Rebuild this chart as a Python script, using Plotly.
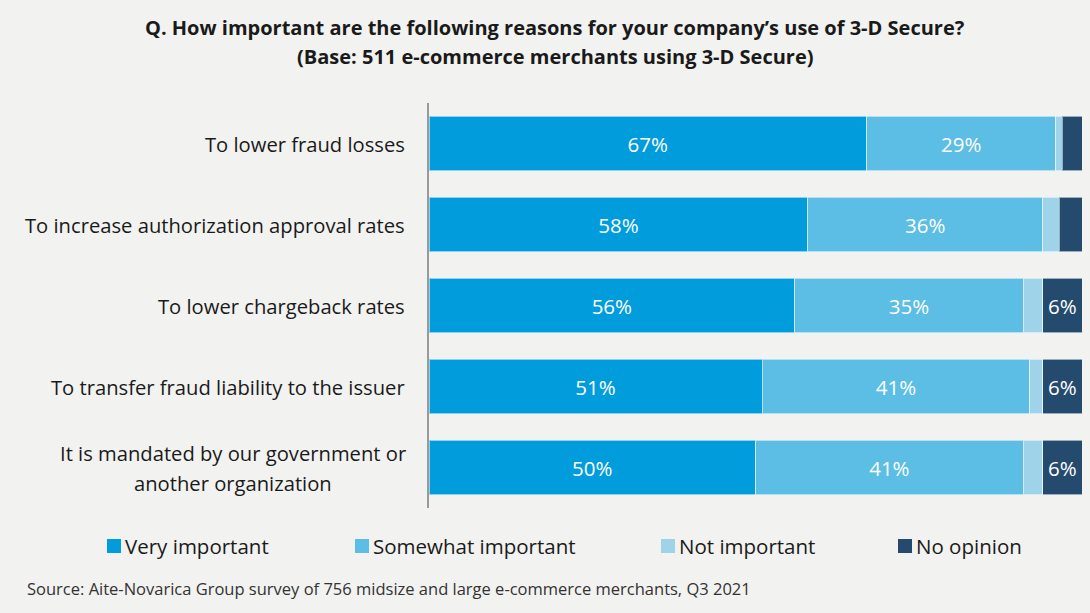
import plotly.graph_objects as go

# Survey responses (% of merchants), listed top to bottom
reasons = [
    "To lower fraud losses",
    "To increase authorization approval rates",
    "To lower chargeback rates",
    "To transfer fraud liability to the issuer",
    "It is mandated by our government or<br>another organization",
]
very_important = [67, 58, 56, 51, 50]
somewhat_important = [29, 36, 35, 41, 41]
not_important = [1, 2.5, 3, 2, 3]
no_opinion = [3, 3.5, 6, 6, 6]

series = [
    ("Very important", very_important, "#009CDC"),
    ("Somewhat important", somewhat_important, "#5CBDE5"),
    ("Not important", not_important, "#9ED3EA"),
    ("No opinion", no_opinion, "#244A6E"),
]

title_lines = [
    "Q. How important are the following reasons for your company’s use of 3-D Secure?",
    "(Base: 511 e-commerce merchants using 3-D Secure)",
]
source_note = "Source: Aite-Novarica Group survey of 756 midsize and large e-commerce merchants, Q3 2021"

FONT = "Open Sans"
W, H = 1090, 613
L, R, T, B = 429, 8, 103, 105
PW, PH = W - L - R, H - T - B
LINE_H = 30        # line pitch for multi-line labels
LABEL_GAP = 22     # space between category labels and the axis line
WIDEST_HALF = 174  # half width of the longest wrapped label line, px


def px_x(x):
    return (x - L) / PW


def px_y(y):
    return (H - B - y) / PH


fig = go.Figure()
for name, vals, color in series:
    labels = [f"{v:g}%" if v >= 5 else "" for v in vals]
    fig.add_trace(go.Bar(
        y=reasons, x=vals, name=name, orientation="h",
        marker=dict(color=color, line=dict(color="rgba(255,255,255,0.55)", width=1)),
        text=labels, textposition="inside", insidetextanchor="middle",
        textfont=dict(color="white", size=20.5, family=FONT),
        hoverinfo="skip", width=0.67, showlegend=False,
    ))

# Category labels beside the axis: single lines flush right,
# wrapped labels with each line centred on a common axis
for r in reasons:
    lines = r.split("<br>")
    n = len(lines)
    for i, line in enumerate(lines):
        wrapped = n > 1
        fig.add_annotation(
            x=0, xref="paper", y=r, yref="y",
            xanchor="center" if wrapped else "right", yanchor="middle",
            xshift=-LABEL_GAP - (WIDEST_HALF if wrapped else 0),
            yshift=((n - 1) / 2 - i) * LINE_H,
            text=line, showarrow=False,
            font=dict(size=20.2, color="#1a1a1a", family=FONT),
        )

# Title
for i, line in enumerate(title_lines):
    fig.add_annotation(
        x=px_x(555), xref="paper", y=px_y(27 + i * LINE_H), yref="paper",
        xanchor="center", yanchor="middle", showarrow=False,
        text=f"<b>{line}</b>",
        font=dict(size=20, color="#1a1a1a", family=FONT),
    )

# Source note
fig.add_annotation(
    x=px_x(25), xref="paper", y=px_y(588), yref="paper", xanchor="left",
    yanchor="middle", showarrow=False, text=source_note,
    font=dict(size=16.5, color="#333333", family=FONT),
)

# Legend row: colour swatch followed by its label
legend_x = [107, 355, 661, 898]
for (name, _, color), lx in zip(series, legend_x):
    fig.add_shape(
        type="rect", xref="paper", yref="paper",
        x0=px_x(lx), x1=px_x(lx + 14), y0=px_y(553), y1=px_y(539),
        fillcolor=color, line=dict(width=0),
    )
    fig.add_annotation(
        x=px_x(lx + 16), xref="paper", y=px_y(546), yref="paper",
        xanchor="left", yanchor="middle", showarrow=False, text=name,
        font=dict(size=20.5, color="#1a1a1a", family=FONT),
    )

fig.update_layout(
    width=W, height=H,
    margin=dict(l=L, r=R, t=T, b=B),
    paper_bgcolor="#F2F2F0", plot_bgcolor="#F2F2F0",
    barmode="stack", bargap=0.33,
    font=dict(family=FONT, size=19, color="#1a1a1a"),
    xaxis=dict(range=[0, 100], showgrid=False, showticklabels=False, zeroline=False,
               fixedrange=True),
    yaxis=dict(range=[4.5, -0.5], showticklabels=False, showgrid=False,
               showline=True, linecolor="#9a9a9a", linewidth=2, fixedrange=True),
    showlegend=False,
    uniformtext=dict(mode="show", minsize=10),
)

fig.write_html("out.html")
